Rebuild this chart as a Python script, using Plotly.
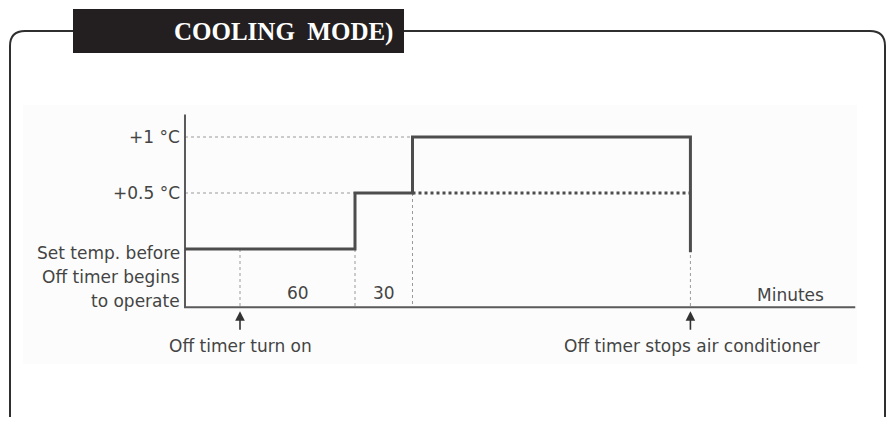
import plotly.graph_objects as go

# ---- data ----
event_minutes = [0, 60, 90, 235]          # timer on, first step, second step, timer stops
step_levels = [0.0, 0.5, 1.0]             # set temp, +0.5 °C, +1 °C
level_labels = ["+1 \u00b0C", "+0.5 \u00b0C"]
base_label_lines = ["Set temp. before", "Off timer begins", "to operate"]
interval_labels = ["60", "30"]
axis_start_min = -28.7
axis_end_min = 321
axis_floor = -0.52
axis_top = 1.2

W, H = 892, 421
# calibration: minute 0 -> px 240, minute 60 -> px 355 ; level 0 -> py 249, level 1 -> py 137
ppm = 115 / 60.0
ppu = 112.0
x_range = [(0 - 240) / ppm, (W - 240) / ppm]
y_range = [(249 - H) / ppu, 249 / ppu]

def px(xp):
    return xp / W

def py(yp):
    return 1 - yp / H

TXT = "#444444"
FONT = "DejaVu Sans, Arial, sans-serif"
FS = 17

fig = go.Figure()

t0, t1, t2, t3 = event_minutes
l0, l1, l2 = step_levels

# gray dotted guides
guide = dict(color="#9a9a9a", width=1, dash="dot")
fig.add_trace(go.Scatter(x=[axis_start_min, t2], y=[l2, l2], mode="lines", line=guide, hoverinfo="skip"))
fig.add_trace(go.Scatter(x=[axis_start_min, t1], y=[l1, l1], mode="lines", line=guide, hoverinfo="skip"))
for xm, top in [(t0, l0), (t1, l0), (t2, l1), (t3, l0)]:
    fig.add_trace(go.Scatter(x=[xm, xm], y=[top, axis_floor], mode="lines", line=guide, hoverinfo="skip"))

# dark dotted continuation of +0.5 level
fig.add_trace(go.Scatter(x=[t2, t3], y=[l1, l1], mode="lines",
                         line=dict(color="#4d4d4d", width=3, dash="dot"), hoverinfo="skip"))

# axes
fig.add_trace(go.Scatter(x=[axis_start_min, axis_start_min, axis_end_min],
                         y=[axis_top, axis_floor, axis_floor], mode="lines",
                         line=dict(color="#5a5a5a", width=2), hoverinfo="skip"))

# step line
fig.add_trace(go.Scatter(
    x=[axis_start_min, t1, t1, t2, t2, t3, t3],
    y=[l0, l0, l1, l1, l2, l2, l0 - 0.03],
    mode="lines", line=dict(color="#4d4d4d", width=3), hoverinfo="skip"))

ann = []
# level labels
for lab, lv in zip(level_labels, [l2, l1]):
    ann.append(dict(x=axis_start_min - 1.5, y=lv, xref="x", yref="y", text=lab, showarrow=False,
                    xanchor="right", yanchor="middle", font=dict(family=FONT, size=FS, color=TXT)))
for i, line in enumerate(base_label_lines):
    ann.append(dict(x=axis_start_min - 1.5, y=l0 - 0.04 - i * 0.21, xref="x", yref="y", text=line,
                    showarrow=False, xanchor="right", yanchor="middle",
                    font=dict(family=FONT, size=FS, color=TXT)))
# interval labels
for lab, a, b in zip(interval_labels, [t0, t1], [t1, t2]):
    ann.append(dict(x=(a + b) / 2, y=-0.39, xref="x", yref="y", text=lab, showarrow=False,
                    xanchor="center", yanchor="middle", font=dict(family=FONT, size=FS, color=TXT)))
ann.append(dict(x=287, y=-0.41, xref="x", yref="y", text="Minutes", showarrow=False,
                xanchor="center", yanchor="middle", font=dict(family=FONT, size=FS, color=TXT)))
# arrows
for xm in [t0, t3]:
    ann.append(dict(x=xm, y=-0.555, xref="x", yref="y", text="", showarrow=True,
                    ax=0, ay=20, arrowhead=2, arrowsize=1.2, arrowwidth=1.6, arrowcolor="#333333"))
ann.append(dict(x=t0, y=-0.87, xref="x", yref="y", text="Off timer turn on", showarrow=False,
                xanchor="center", yanchor="middle", font=dict(family=FONT, size=FS, color=TXT)))
ann.append(dict(x=t3 + 1, y=-0.87, xref="x", yref="y", text="Off timer stops air conditioner",
                showarrow=False, xanchor="center", yanchor="middle",
                font=dict(family=FONT, size=FS, color=TXT)))
# title
ann.append(dict(x=px(283), y=py(32), xref="paper", yref="paper",
                text="<b>COOLING\u00a0\u00a0MODE)</b>",
                showarrow=False, xanchor="center", yanchor="middle",
                font=dict(family="Liberation Serif, Times New Roman, serif", size=25, color="#ffffff")))

# frame path (rounded rectangle, bottom below view)
L, R, T, B, r = 10, 885, 31, 432, 15
path = (f"M {px(L)},{py(B - r)} L {px(L)},{py(T + r)} Q {px(L)},{py(T)} {px(L + r)},{py(T)} "
        f"L {px(R - r)},{py(T)} Q {px(R)},{py(T)} {px(R)},{py(T + r)} L {px(R)},{py(B - r)}")

shapes = [
    dict(type="rect", xref="paper", yref="paper", x0=px(23), x1=px(857), y0=py(364), y1=py(105),
         fillcolor="#fcfcfc", line=dict(width=0), layer="below"),
    dict(type="path", xref="paper", yref="paper", path=path, line=dict(color="#2f2f2f", width=2)),
    dict(type="rect", xref="paper", yref="paper", x0=px(73), x1=px(404), y0=py(53), y1=py(9),
         fillcolor="#231f20", line=dict(width=0)),
]

fig.update_layout(
    width=W, height=H, autosize=False,
    margin=dict(l=0, r=0, t=0, b=0),
    paper_bgcolor="#ffffff", plot_bgcolor="rgba(0,0,0,0)",
    showlegend=False,
    xaxis=dict(range=x_range, visible=False, fixedrange=True),
    yaxis=dict(range=y_range, visible=False, fixedrange=True),
    annotations=ann, shapes=shapes,
)

fig.write_html("out.html", config={"displayModeBar": False},
               post_script="document.body.style.margin='0px';document.body.style.overflow='hidden';")
